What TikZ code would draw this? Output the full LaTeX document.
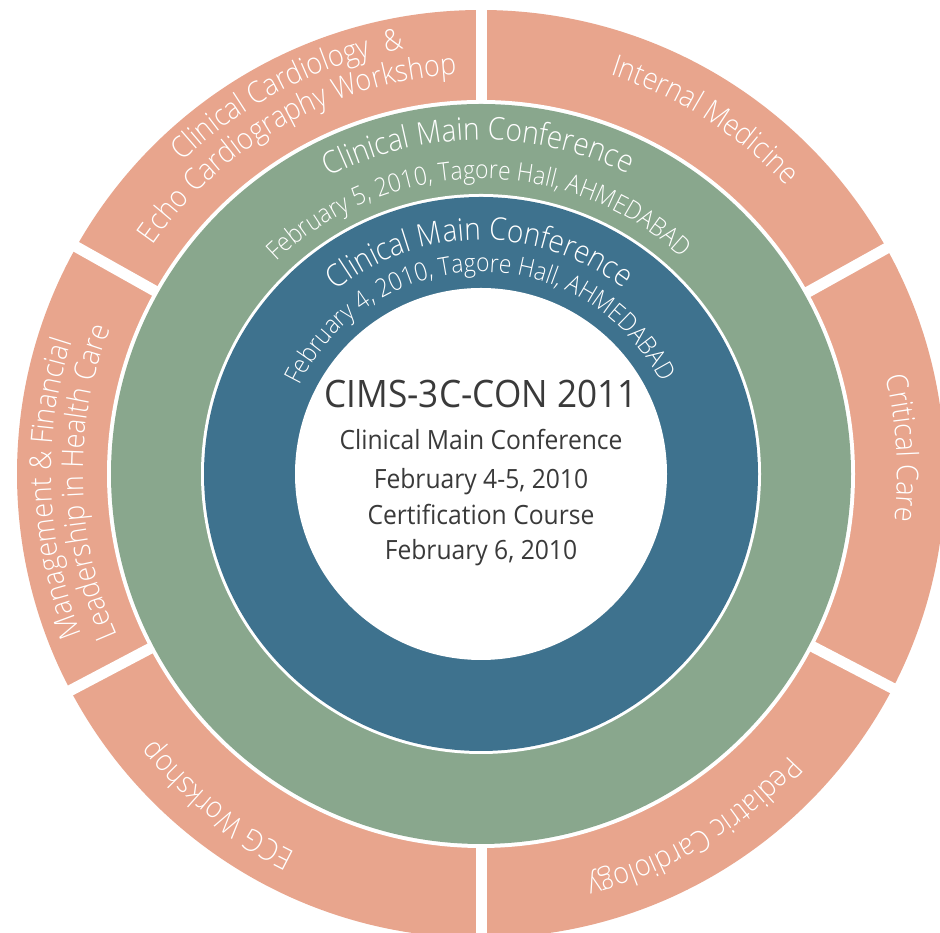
\documentclass[tikz,border=0pt]{standalone}
\usepackage{fontspec}
\setmainfont{Open Sans}
\newfontfamily\ringfont[FakeStretch=0.9,UprightFont={* Light}]{Open Sans}
\newfontfamily\centrefont[FakeStretch=0.93]{Open Sans}
\usetikzlibrary{decorations.text,calc}
\definecolor{salmon}{HTML}{E8A58D}
\definecolor{ringgreen}{HTML}{89A78D}
\definecolor{ringblue}{HTML}{3E728E}
\definecolor{inktext}{HTML}{3A3A3A}
\newcommand\rfBig{\ringfont\fontsize{31.2}{36}\selectfont\color{white}}
\newcommand\rfSmall{\ringfont\fontsize{25.4}{30}\selectfont\color{white}}
\newcommand\rfOuter{\ringfont\fontsize{30}{35}\selectfont\color{white}}
\newcommand\ringtext[4]{\path[decorate,decoration={text along path,text align=center,text={#4}}] ($(C)+(#1+#3:#2)$) arc[start angle=#1+#3,end angle=#1-#3,radius=#2];}
\tikzset{centertext/.style={inner sep=0pt,anchor=base,text=inktext}}
\begin{document}
\begin{tikzpicture}[x=1pt,y=1pt]
\clip (0,0) rectangle (940,933);
\fill[white] (0,0) rectangle (940,933);
\coordinate (C) at (481,459);
% outer ring with gaps
\fill[salmon] (C) circle[radius=464];
\foreach \a in {90,150.7,207.8,270,-27.5,29.1}
  \draw[white,line width=11pt] (C) -- ++(\a:490);
\fill[white] (C) circle[radius=374];
\fill[ringgreen] (C) circle[radius=370];
\fill[white] (C) circle[radius=280];
\fill[ringblue] (C) circle[radius=277];
\fill[white] (C) circle[radius=186];
% green ring
\ringtext{90.5}{334}{60}{|\rfBig|Clinical Main Conference}
\ringtext{90.5}{295}{75}{|\rfSmall|February 5, 2010, Tagore Hall, AHMEDABAD}
% blue ring
\ringtext{90.4}{234}{70}{|\rfBig|Clinical Main Conference}
\ringtext{90.5}{202}{85}{|\rfSmall|February 4, 2010, Tagore Hall, AHMEDABAD}
% outer ring
\ringtext{117}{432}{40}{|\rfOuter|Clinical Cardiology{\ } {\&}}
\ringtext{119.3}{400}{45}{|\rfOuter|Echo Cardiography Workshop}
\ringtext{57.7}{420}{28}{|\rfOuter|Internal Medicine}
\ringtext{3.5}{416}{28}{|\rfOuter|Critical Care}
\ringtext{-58.9}{418}{28}{|\rfOuter|Pediatric Cardiology}
\ringtext{231.5}{421}{28}{|\rfOuter|ECG Workshop}
\ringtext{182}{430}{40}{|\rfOuter|Management {\&} Financial}
\ringtext{181.3}{398}{45}{|\rfOuter|Leadership in Health Care}
% centre
\node[centertext,font=\centrefont\fontsize{37.8}{42}\selectfont] (title) at (481,525) {CIMS-3C-CON 2011};
\node[centertext,font=\centrefont\fontsize{26.5}{30}\selectfont] (l1) at (481,483) {Clinical Main Conference};
\node[centertext,font=\centrefont\fontsize{26.5}{30}\selectfont] (l2) at (481,444.7) {February 4-5, 2010};
\node[centertext,font=\centrefont\fontsize{26.5}{30}\selectfont] (l3) at (481,408) {Certification Course};
\node[centertext,font=\centrefont\fontsize{26.5}{30}\selectfont] (l4) at (481,373) {February 6, 2010};
\end{tikzpicture}
\end{document}
